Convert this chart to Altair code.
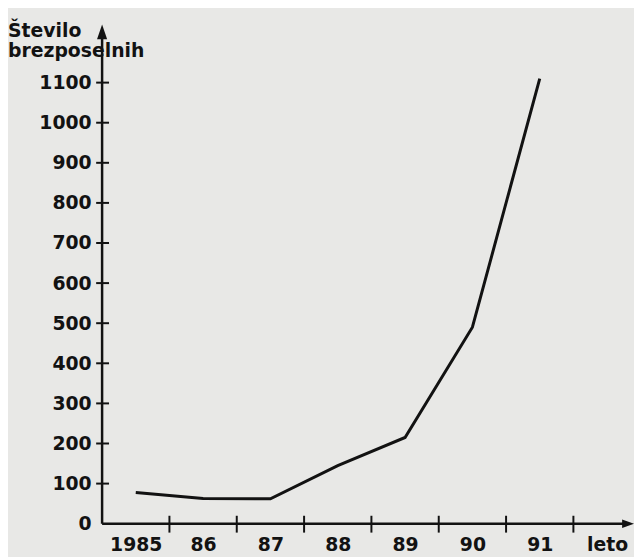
import altair as alt
import pandas as pd

# ---- data ----
years = ["1985", "86", "87", "88", "89", "90", "91"]
unemployed = [78, 63, 62, 145, 215, 490, 1110]
x_labels = years + ["leto"]
y_ticks = list(range(0, 1200, 100))
title_lines = ["Število", "brezposelnih"]

X_MAX = 7.9
Y_MAX = 1245
W, H = 537, 504
ink = "#121212"
font = "DejaVu Sans"

df = pd.DataFrame({"pos": [i + 0.5 for i in range(len(years))], "value": unemployed})
xs = alt.Scale(domain=[0, X_MAX], nice=False, zero=False)
ys = alt.Scale(domain=[0, Y_MAX], nice=False)

label_expr = "[" + ",".join(f"'{l}'" for l in x_labels) + "][floor(datum.value)]"

line = alt.Chart(df).mark_line(color=ink, strokeWidth=3).encode(
    x=alt.X("pos:Q", scale=xs,
            axis=alt.Axis(values=[i + 0.5 for i in range(len(x_labels))], labelExpr=label_expr,
                          title=None, domain=False, ticks=False, grid=False, labelFlush=False,
                          labelOverlap=False, labelPadding=12, labelFontSize=19, labelFont=font,
                          labelFontWeight="bold", labelColor=ink)),
    y=alt.Y("value:Q", scale=ys,
            axis=alt.Axis(values=y_ticks, format="d", title=None, domain=False, ticks=False,
                          grid=False, labelPadding=11, labelFontSize=19, labelFont=font,
                          labelFontWeight="bold", labelColor=ink, labelFlush=False,
                          labelOverlap=False)),
)

# axes drawn as arrows
yaxis = alt.Chart(pd.DataFrame({"x": [0], "y": [0], "y2": [Y_MAX - 20]})).mark_rule(
    color=ink, strokeWidth=2.5).encode(x=alt.X("x:Q", scale=xs), y=alt.Y("y:Q", scale=ys), y2="y2:Q")
xaxis = alt.Chart(pd.DataFrame({"x": [0], "x2": [X_MAX - 0.12], "y": [0]})).mark_rule(
    color=ink, strokeWidth=2.5).encode(x=alt.X("x:Q", scale=xs), x2="x2:Q", y=alt.Y("y:Q", scale=ys))

yarrow = alt.Chart(pd.DataFrame({"x": [0], "y": [Y_MAX]})).mark_point(
    shape="M0,0L0.34,1L-0.34,1Z", size=900, filled=True, color=ink, opacity=1).encode(
    x=alt.X("x:Q", scale=xs), y=alt.Y("y:Q", scale=ys))
xarrow = alt.Chart(pd.DataFrame({"x": [X_MAX], "y": [0]})).mark_point(
    shape="M0,0L-1,-0.36L-1,0.36Z", size=576, filled=True, color=ink, opacity=1).encode(
    x=alt.X("x:Q", scale=xs), y=alt.Y("y:Q", scale=ys))

yt = alt.Chart(pd.DataFrame({"v": y_ticks[1:]})).mark_rule(color=ink, strokeWidth=2).encode(
    y=alt.Y("v:Q", scale=ys), x=alt.value(-6), x2=alt.value(7))
xt = alt.Chart(pd.DataFrame({"v": list(range(1, len(x_labels)))})).mark_rule(color=ink, strokeWidth=2).encode(
    x=alt.X("v:Q", scale=xs), y=alt.value(H - 8), y2=alt.value(H + 9))

title = alt.Chart(pd.DataFrame({"t": [0]})).mark_text(
    text=title_lines, align="left", baseline="alphabetic", font=font, fontWeight="bold",
    fontSize=19, lineHeight=20, color=ink).encode(x=alt.value(-95), y=alt.value(13))

chart = alt.layer(line, yaxis, xaxis, yarrow, xarrow, yt, xt, title).properties(
    width=W, height=H,
    autosize=alt.AutoSizeParams(type="none"),
    padding={"left": 95, "top": 14, "right": 0, "bottom": 31},
    background="#e8e8e6",
).configure_view(stroke=None)

chart.save("out.html", embed_options={"renderer": "svg", "actions": False})
